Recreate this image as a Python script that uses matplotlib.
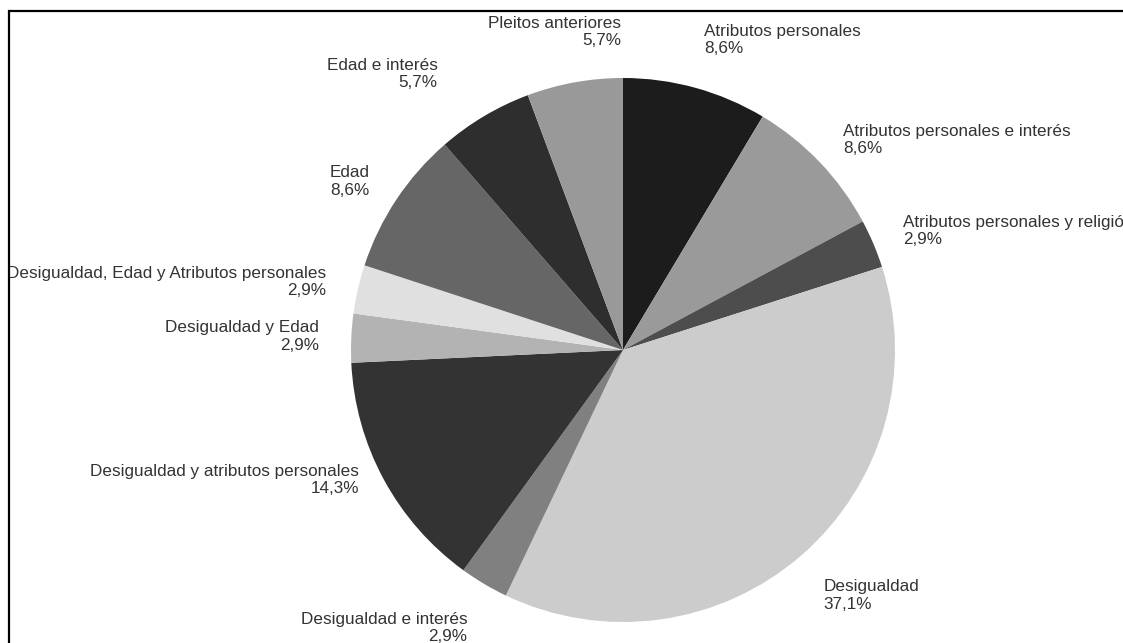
import numpy as np
import matplotlib
matplotlib.use("Agg")
import matplotlib.pyplot as plt
from matplotlib.patches import Rectangle

plt.rcParams['font.family'] = ['Liberation Sans', 'DejaVu Sans']

# slices, clockwise from 12 o'clock
categories = [
    "Atributos personales",
    "Atributos personales e interés",
    "Atributos personales y religión",
    "Desigualdad",
    "Desigualdad e interés",
    "Desigualdad y atributos personales",
    "Desigualdad y Edad",
    "Desigualdad, Edad y Atributos personales",
    "Edad",
    "Edad e interés",
    "Pleitos anteriores",
]
percent = [8.6, 8.6, 2.9, 37.1, 2.9, 14.3, 2.9, 2.9, 8.6, 5.7, 5.7]
colors = ['#1c1c1c', '#9a9a9a', '#4d4d4d', '#cccccc', '#808080', '#333333',
          '#b3b3b3', '#e0e0e0', '#666666', '#2e2e2e', '#999999']

# hand nudges (pixels) for labels shifted off their default spot
label_nudge = {
    "Pleitos anteriores": (52, 2),
    "Edad e interés": (-30, -2),
    "Desigualdad y atributos personales": (4, 15),
}

W, H = 1123, 643
fig = plt.figure(figsize=(W / 100, H / 100), dpi=100)
fig.patch.set_facecolor('white')

# outer chart frame (right and bottom sides run off the canvas)
fig.patches.append(Rectangle((9 / W, -0.2), 2.0, (H - 11) / H + 0.2,
                             transform=fig.transFigure, fill=False,
                             edgecolor='black', linewidth=1.6))

cx, cy, R = 623, 350, 272
ax = fig.add_axes([(cx - R) / W, (H - cy - R) / H, 2 * R / W, 2 * R / H])

wedges, _ = ax.pie(percent, colors=colors, startangle=90, counterclock=False,
                   radius=1, wedgeprops=dict(linewidth=0))
# pie() resets the limits, so pin them afterwards
ax.set_xlim(-1, 1)
ax.set_ylim(-1, 1)
ax.axis('off')

label_r = 1.12
for w, name, p in zip(wedges, categories, percent):
    ang = np.deg2rad((w.theta1 + w.theta2) / 2)
    x, y = label_r * np.cos(ang), label_r * np.sin(ang)
    ha = 'left' if x >= 0 else 'right'
    s = np.sin(ang)
    va = 'bottom' if s > 0.72 else ('top' if s < -0.72 else 'center')
    dx, dy = label_nudge.get(name, (0, 0))
    x += dx / R
    y += dy / R
    txt = f"{name}\n{p:.1f}%".replace('.', ',')
    ax.text(x, y, txt, ha=ha, va=va, multialignment=ha,
            fontsize=12.3, color='#333333', linespacing=1.2)

fig.savefig('out.png', dpi=100)
